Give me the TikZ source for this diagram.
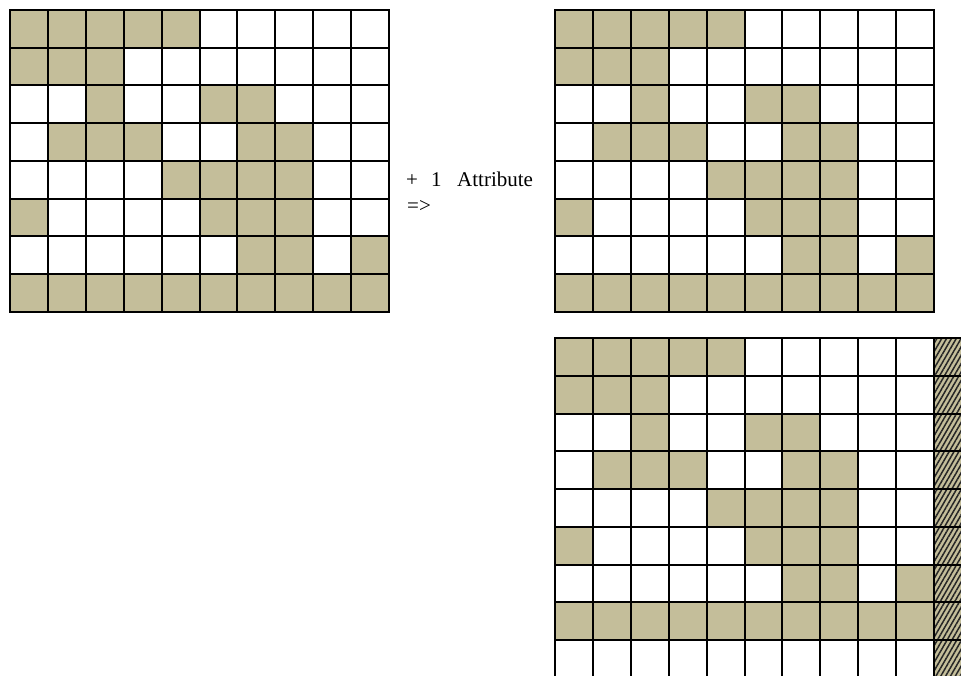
\documentclass[tikz,border=0pt]{standalone}
\usepackage{fontspec}
\setmainfont{Liberation Serif}
\usetikzlibrary{patterns.meta}
\definecolor{cellfill}{RGB}{196,190,154}
\tikzset{
  gridline/.style={line width=2pt, draw=black},
  lbl/.style={inner sep=0pt, anchor=base west, font=\fontsize{21}{26}\selectfont}
}
\newcommand{\cw}{37.9}
\newcommand{\ch}{37.75}
% fill one cell: origin x, origin y, col, row (1-based)
\newcommand{\mycell}[4]{%
  \fill[cellfill] ({#1+(#3-1)*\cw},{#2+(#4-1)*\ch}) rectangle ({#1+#3*\cw},{#2+#4*\ch});}
\newcommand{\mypattern}[2]{%
  \foreach \c in {1,...,5}{\mycell{#1}{#2}{\c}{1}}
  \foreach \c in {1,...,3}{\mycell{#1}{#2}{\c}{2}}
  \foreach \c in {3,6,7}{\mycell{#1}{#2}{\c}{3}}
  \foreach \c in {2,3,4,7,8}{\mycell{#1}{#2}{\c}{4}}
  \foreach \c in {5,6,7,8}{\mycell{#1}{#2}{\c}{5}}
  \foreach \c in {1,6,7,8}{\mycell{#1}{#2}{\c}{6}}
  \foreach \c in {7,8,10}{\mycell{#1}{#2}{\c}{7}}
  \foreach \c in {1,...,10}{\mycell{#1}{#2}{\c}{8}}
}
\begin{document}
\begin{tikzpicture}[x=1pt,y=-1pt]
\useasboundingbox (0,0) rectangle (961,676);
\fill[white] (0,0) rectangle (961,676);

% top-left grid
\mypattern{10}{10}
\foreach \i in {0,...,10}{\draw[gridline] ({10+\i*\cw},10) -- ({10+\i*\cw},312);}
\foreach \j in {0,...,8}{\draw[gridline] (9,{10+\j*\ch}) -- (390,{10+\j*\ch});}

% top-right grid
\mypattern{555}{10}
\foreach \i in {0,...,10}{\draw[gridline] ({555+\i*\cw},10) -- ({555+\i*\cw},312);}
\foreach \j in {0,...,8}{\draw[gridline] (554,{10+\j*\ch}) -- (935,{10+\j*\ch});}

% bottom-right grid
\mypattern{555}{338}
\fill[cellfill] (934,338) rectangle (965,680);
\fill[pattern={Lines[angle=60,distance=4.2pt,line width=1.5pt]}, pattern color=black!85] (934,338) rectangle (965,680);
\foreach \i in {0,...,10}{\draw[gridline] ({555+\i*\cw},338) -- ({555+\i*\cw},680);}
\foreach \j in {0,...,8}{\draw[gridline] (554,{338+\j*\ch}) -- (965,{338+\j*\ch});}

% label
\node[lbl] (plus) at (406,187) {+};
\node[lbl] (one) at (431,187) {1};
\node[lbl] (attr) at (457,187) {Attribute};
\node[lbl] (arrow) at (407,213) {=>};
\end{tikzpicture}
\end{document}
